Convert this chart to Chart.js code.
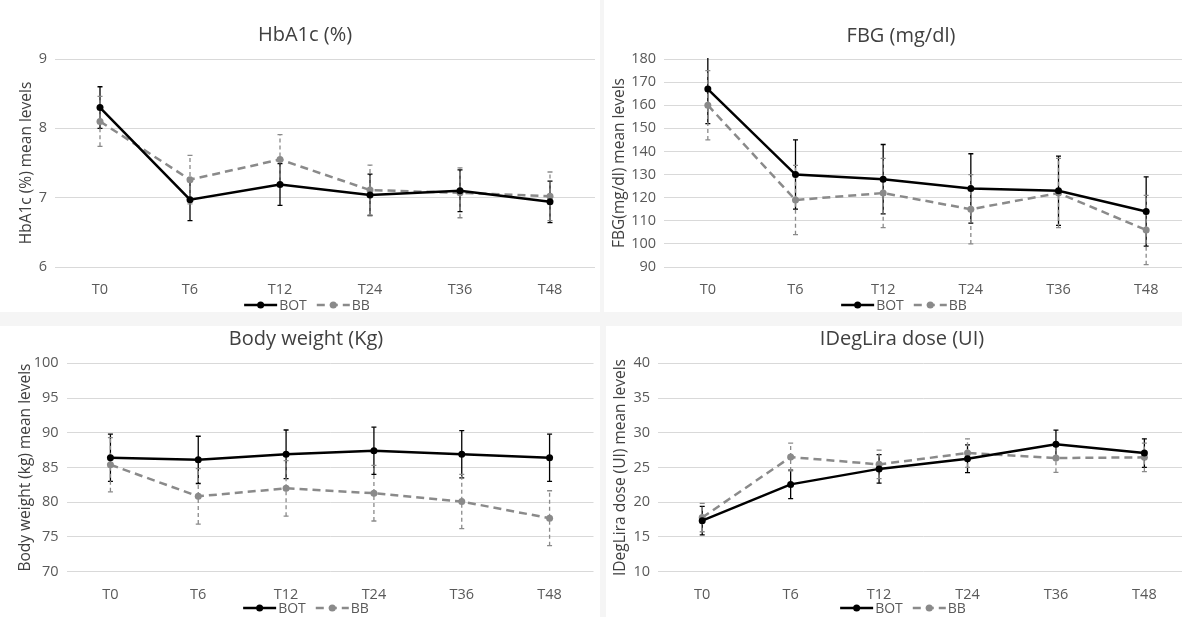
<!DOCTYPE html>
<html>
<head>
<meta charset="utf-8">
<script src="https://cdn.jsdelivr.net/npm/chart.js@4.4.1/dist/chart.umd.min.js"></script>
<style>
  html, body { margin: 0; padding: 0; width: 1182px; height: 617px; overflow: hidden; background: #f5f5f5; }
  .panel { position: absolute; background: #fff; overflow: hidden; }
  canvas { display: block; }
</style>
</head>
<body>
<div class="panel" style="left:0;top:0;width:600px;height:312px"><canvas id="c1" width="600" height="312"></canvas></div>
<div class="panel" style="left:604px;top:0;width:590px;height:312px"><canvas id="c2" width="590" height="312"></canvas></div>
<div class="panel" style="left:0;top:326px;width:600px;height:291px"><canvas id="c3" width="600" height="291"></canvas></div>
<div class="panel" style="left:606px;top:326px;width:590px;height:291px"><canvas id="c4" width="590" height="291"></canvas></div>
<script>
// time points
const timepoints = ['T0', 'T6', 'T12', 'T24', 'T36', 'T48'];

// HbA1c (%)
const hbBot = [8.30, 6.97, 7.19, 7.04, 7.10, 6.94];
const hbBotSd = [0.30, 0.30, 0.30, 0.30, 0.30, 0.30];
const hbBb = [8.10, 7.26, 7.55, 7.11, 7.07, 7.02];
const hbBbSd = [0.36, 0.35, 0.36, 0.36, 0.36, 0.35];

// FBG (mg/dl)
const fbgBot = [167, 130, 128, 124, 123, 114];
const fbgBotSd = [15, 15, 15, 15, 15, 15];
const fbgBb = [160, 119, 122, 115, 122, 106];
const fbgBbSd = [15, 15, 15, 15, 15, 15];

// Body weight (Kg)
const wBot = [86.4, 86.1, 86.9, 87.4, 86.9, 86.4];
const wBotSd = [3.4, 3.4, 3.5, 3.4, 3.4, 3.4];
const wBb = [85.4, 80.85, 82.0, 81.3, 80.1, 77.7];
const wBbSd = [3.9, 4.0, 4.0, 4.0, 3.9, 3.95];

// IDegLira dose (UI)
const doseBot = [17.35, 22.57, 24.8, 26.27, 28.34, 27.08];
const doseBotSd = [2.05, 2.05, 2.05, 2.0, 2.05, 2.05];
const doseBb = [17.8, 26.5, 25.45, 27.08, 26.36, 26.46];
const doseBbSd = [2.05, 2.0, 2.05, 2.05, 2.05, 2.05];

// y axis ranges [min, max, step]
const hbRange = [6, 9, 1];
const fbgRange = [90, 180, 10];
const wRange = [70, 100, 5];
const doseRange = [10, 40, 5];

const seriesNames = ['BOT', 'BB'];

Chart.defaults.font.family = '"Open Sans", sans-serif';
Chart.defaults.color = '#595959';

// error bars, title and legend
const panelDeco = {
  id: 'panelDeco',
  beforeDatasetsDraw(chart) {
    const ctx = chart.ctx, xs = chart.scales.x, ys = chart.scales.y, a = chart.chartArea;
    ctx.save();
    ctx.beginPath();
    ctx.rect(a.left, a.top - 1, a.right - a.left, a.bottom - a.top + 2);
    ctx.clip();
    chart.data.datasets.forEach(ds => {
      ctx.strokeStyle = ds.borderColor;
      ctx.lineWidth = 1.3;
      ds.data.forEach((v, j) => {
        const x = xs.getPixelForValue(j);
        const y1 = ys.getPixelForValue(v - ds.errors[j]);
        const y2 = ys.getPixelForValue(v + ds.errors[j]);
        ctx.setLineDash(ds.errDash);
        ctx.beginPath(); ctx.moveTo(x, y1); ctx.lineTo(x, y2); ctx.stroke();
        ctx.setLineDash([]);
        ctx.beginPath();
        ctx.moveTo(x - 2.5, y1); ctx.lineTo(x + 2.5, y1);
        ctx.moveTo(x - 2.5, y2); ctx.lineTo(x + 2.5, y2);
        ctx.stroke();
      });
    });
    ctx.restore();
  },
  afterDraw(chart, args, opts) {
    const ctx = chart.ctx;
    ctx.save();
    ctx.fillStyle = '#404040';
    ctx.font = '20px "Open Sans"';
    ctx.textAlign = 'center';
    ctx.textBaseline = 'middle';
    ctx.fillText(opts.title, opts.titleX, opts.titleY);

    ctx.font = '14px "Open Sans"';
    const lineW = 33, gapText = 2, gapItem = 10;
    const items = chart.data.datasets.map(ds => ({ ds: ds, w: ctx.measureText(ds.label).width }));
    let total = gapItem * (items.length - 1);
    items.forEach(it => { total += lineW + gapText + it.w; });
    let x = opts.legendX - total / 2;
    const y = opts.legendY;
    items.forEach(it => {
      const ds = it.ds;
      ctx.strokeStyle = ds.borderColor;
      ctx.lineWidth = ds.borderWidth;
      ctx.setLineDash(ds.borderDash);
      ctx.beginPath(); ctx.moveTo(x, y); ctx.lineTo(x + lineW, y); ctx.stroke();
      ctx.setLineDash([]);
      ctx.fillStyle = ds.borderColor;
      ctx.beginPath(); ctx.arc(x + lineW / 2, y, 3.5, 0, Math.PI * 2); ctx.fill();
      ctx.fillStyle = '#595959';
      ctx.textAlign = 'left';
      ctx.fillText(ds.label, x + lineW + gapText, y + 1);
      x += lineW + gapText + it.w + gapItem;
    });
    ctx.restore();
  }
};

function makeChart(id, p) {
  return new Chart(document.getElementById(id), {
    type: 'line',
    data: {
      labels: timepoints,
      datasets: [{
        label: seriesNames[0],
        data: p.bot,
        errors: p.botSd,
        errDash: [],
        borderColor: '#000000',
        backgroundColor: '#000000',
        borderWidth: 2.5,
        borderDash: [],
        pointRadius: 3.5,
        pointBorderWidth: 0,
        tension: 0
      }, {
        label: seriesNames[1],
        data: p.bb,
        errors: p.bbSd,
        errDash: [4, 3],
        borderColor: '#8a8a8a',
        backgroundColor: '#8a8a8a',
        borderWidth: 2.5,
        borderDash: [8, 5],
        pointRadius: 3.5,
        pointBorderWidth: 0,
        tension: 0
      }]
    },
    options: {
      responsive: false,
      animation: false,
      layout: { padding: { left: 0, right: p.padRight, top: p.padTop, bottom: p.padBottom } },
      plugins: {
        legend: { display: false },
        tooltip: { enabled: false },
        panelDeco: {
          title: p.title, titleX: p.titleX, titleY: p.titleY,
          legendX: p.legendX, legendY: p.legendY
        }
      },
      scales: {
        x: {
          offset: true,
          grid: { display: false, offset: true },
          border: { display: false },
          ticks: { font: { size: 14.5 }, color: '#595959', padding: 6 },
          afterFit: s => { s.height = 30; s.paddingLeft = 0; s.paddingRight = 0; }
        },
        y: {
          min: p.range[0], max: p.range[1],
          grid: { color: '#d9d9d9', lineWidth: 1, drawTicks: false },
          border: { display: false },
          ticks: { stepSize: p.range[2], font: { size: 14.5 }, color: '#595959', padding: 8 },
          title: {
            display: true, text: p.yTitle, color: '#404040',
            font: { size: 15.5 }, padding: { top: p.yTitlePad, bottom: 0 }
          },
          afterFit: s => { s.width = p.yWidth; }
        }
      }
    },
    plugins: [panelDeco]
  });
}

makeChart('c1', {
  bot: hbBot, botSd: hbBotSd, bb: hbBb, bbSd: hbBbSd, range: hbRange,
  title: 'HbA1c (%)', titleX: 305, titleY: 35,
  legendX: 307, legendY: 305,
  yTitle: 'HbA1c (%) mean levels', yTitlePad: 17,
  yWidth: 55, padRight: 5, padTop: 59, padBottom: 15
});

makeChart('c2', {
  bot: fbgBot, botSd: fbgBotSd, bb: fbgBb, bbSd: fbgBbSd, range: fbgRange,
  title: 'FBG (mg/dl)', titleX: 297, titleY: 36,
  legendX: 300, legendY: 305,
  yTitle: 'FBG(mg/dl) mean levels', yTitlePad: 6.5,
  yWidth: 60, padRight: 3.5, padTop: 59, padBottom: 15
});

makeChart('c3', {
  bot: wBot, botSd: wBotSd, bb: wBb, bbSd: wBbSd, range: wRange,
  title: 'Body weight (Kg)', titleX: 306, titleY: 13,
  legendX: 306, legendY: 282,
  yTitle: 'Body weight (kg) mean levels', yTitlePad: 16,
  yWidth: 66.5, padRight: 6.5, padTop: 37.3, padBottom: 15.3
});

makeChart('c4', {
  bot: doseBot, botSd: doseBotSd, bb: doseBb, bbSd: doseBbSd, range: doseRange,
  title: 'IDegLira dose (UI)', titleX: 296, titleY: 13,
  legendX: 297, legendY: 282,
  yTitle: 'IDegLira dose (UI) mean levels', yTitlePad: 5.6,
  yWidth: 52, padRight: 7.4, padTop: 37.3, padBottom: 15.3
});
</script>
</body>
</html>
